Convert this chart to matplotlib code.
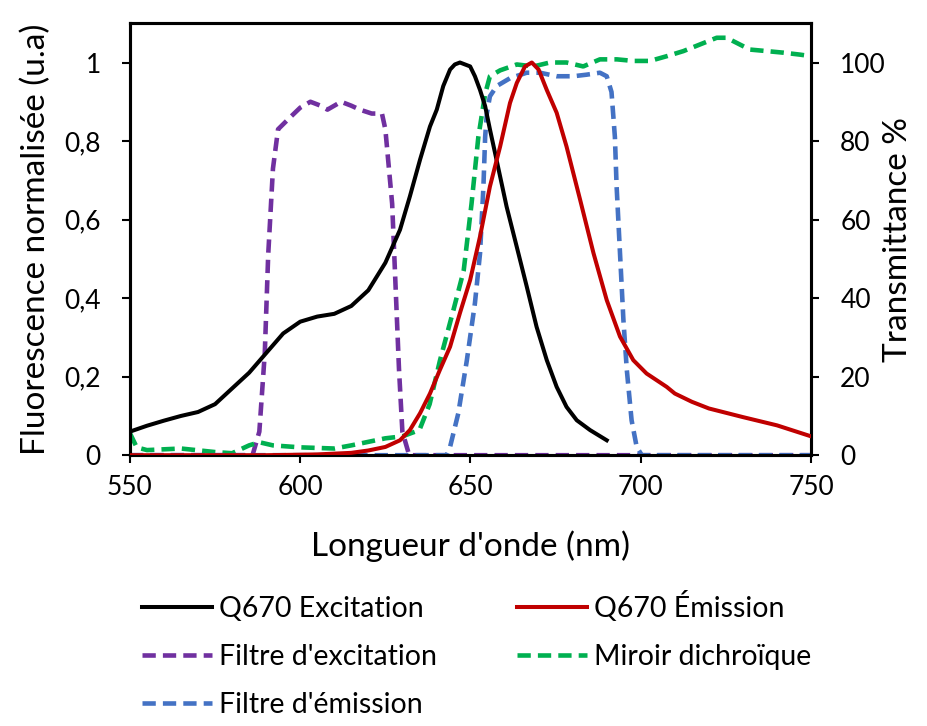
import matplotlib
matplotlib.use("Agg")
import matplotlib.pyplot as plt

plt.rcParams['font.family'] = ['Lato', 'DejaVu Sans']

# Q670 excitation (normalised)
exc_nm = [550, 555, 560, 565, 570, 575, 580, 585, 590, 595, 600, 605, 610, 615, 620, 625, 629.3,
          632.2, 635.2, 638.1, 640.1, 642, 644, 645.4, 646.9, 648.4, 649.9, 651.3, 652.8, 654.3,
          655.7, 657.7, 660.6, 663.6, 666.5, 669.4, 672.4, 675.3, 678.2, 681.2, 685.1, 690]
exc_val = [0.06, 0.075, 0.088, 0.10, 0.11, 0.13, 0.17, 0.21, 0.26, 0.31, 0.34, 0.353, 0.36, 0.38,
           0.42, 0.49, 0.574, 0.659, 0.753, 0.837, 0.88, 0.94, 0.982, 0.995, 1.0, 0.995, 0.99,
           0.965, 0.93, 0.889, 0.83, 0.75, 0.633, 0.53, 0.43, 0.327, 0.242, 0.174, 0.123, 0.089,
           0.064, 0.038]

# Q670 emission (normalised)
em_nm = [550, 590, 605, 615, 620, 625, 629.3, 632.2, 635.2, 638.1, 641, 644, 646.9, 649.9, 652.8,
         655.7, 658.7, 661.6, 663.6, 666, 668, 670, 672.4, 675.3, 678.2, 682.2, 686.1, 690, 693.9,
         697.8, 701.7, 707.6, 710, 715, 720, 730, 740, 750]
em_val = [0.0, 0.0, 0.002, 0.006, 0.012, 0.021, 0.038, 0.064, 0.107, 0.157, 0.217, 0.276, 0.362,
          0.446, 0.557, 0.684, 0.786, 0.897, 0.948, 0.99, 1.0, 0.982, 0.93, 0.872, 0.786, 0.65,
          0.515, 0.395, 0.302, 0.242, 0.208, 0.174, 0.157, 0.136, 0.119, 0.097, 0.076, 0.048]

# filtre d'excitation (%)
fex_nm = [550, 586, 588, 589.6, 590.6, 592, 593.5, 597, 600, 603, 606, 608, 612, 615, 617.5, 621,
          624, 625, 627, 628, 629, 630, 632, 750]
fex_val = [0, 0, 6, 26, 51, 73, 83, 86, 88.5, 90, 89, 88, 90, 89, 88, 87, 87, 83, 64, 43, 22, 6, 0, 0]

# miroir dichroïque (%)
dic_nm = [550, 552, 555, 565, 575, 580, 585, 588, 592, 600, 610, 615, 625, 630, 635, 638, 641, 645,
          648, 650.3, 652.3, 654.3, 655.7, 658.7, 663.6, 668.5, 673.3, 678.2, 683.1, 688, 693,
          697.8, 702.7, 707.6, 712.5, 717.4, 722.3, 725.2, 732, 737, 741.9, 746.8, 750]
dic_val = [5.6, 2, 1.3, 1.7, 0.8, 0.5, 2.5, 3.3, 2.5, 2, 1.7, 2.5, 4.3, 4.8, 6.4, 13, 24, 37,
           47, 64, 81, 92, 96.5, 98, 99.5, 99, 100, 100, 99, 100.8, 100.8,
           100.4, 100.4, 101.6, 102.9, 104.6, 106.3, 106.3, 103.3, 102.9, 102.5, 102, 101.6]

# filtre d'émission (%)
fem_nm = [550, 643, 644, 646.4, 648.9, 651.3, 652.8, 653.8, 654.3, 654.8, 655.7, 657.7, 661.6,
          666.5, 670.4, 675.3, 680.2, 684.1, 688, 690, 691.4, 692.4, 692.9, 693.9, 694.9, 695.9,
          697.3, 698.8, 700.3, 750]
fem_val = [0, 0, 2.1, 10.6, 24, 38.7, 51.4, 68.5, 81, 87, 91.4, 94, 96, 97.4, 97.4, 96.5, 96.5,
           96.9, 97.4, 96.5, 92.5, 81, 68.5, 51.4, 34.4, 21.7, 8.9, 2.1, 0, 0]

fig = plt.figure(figsize=(9.28, 7.26), dpi=100)
ax = fig.add_axes([0.140, 0.373, 0.734, 0.595])
ax2 = ax.twinx()

dash = (0, (2.9, 1.55))
l1, = ax.plot(exc_nm, exc_val, color='black', lw=2.9, label='Q670 Excitation', zorder=5)
l2, = ax.plot(em_nm, em_val, color='#C00000', lw=2.9, label='Q670 Émission', zorder=5)
l3, = ax2.plot(fex_nm, fex_val, color='#7030A0', lw=3.3, ls=dash, label="Filtre d'excitation")
l4, = ax2.plot(dic_nm, dic_val, color='#00B050', lw=3.3, ls=dash, label='Miroir dichroïque')
l5, = ax2.plot(fem_nm, fem_val, color='#4472C4', lw=3.3, ls=dash, label="Filtre d'émission")

ax.set_zorder(ax2.get_zorder() + 1)
ax.patch.set_visible(False)

ax.set_xlim(550, 750)
ax.set_ylim(0, 1.1)
ax2.set_ylim(0, 110)
ax.set_xticks([550, 600, 650, 700, 750])
ax.set_yticks([0, 0.2, 0.4, 0.6, 0.8, 1.0])
ax.set_yticklabels(['0', '0,2', '0,4', '0,6', '0,8', '1'])
ax2.set_yticks([0, 20, 40, 60, 80, 100])

for a in (ax, ax2):
    for s in a.spines.values():
        s.set_linewidth(2.2)
    a.tick_params(labelsize=19, width=1.5, length=6, direction='out', pad=15)
ax.tick_params(axis='x', pad=8)

ax.set_xlabel("Longueur d'onde (nm)", fontsize=24, labelpad=22)
ax.set_ylabel("Fluorescence normalisée (u.a)", fontsize=24, labelpad=9)
ax2.set_ylabel("Transmittance %", fontsize=24, labelpad=-2)

# row-wise order: column 1 then column 2
fig.legend(handles=[l1, l3, l5, l2, l4], loc='upper left', bbox_to_anchor=(0.153, 0.186),
           ncol=2, frameon=False, fontsize=20.5, handlelength=2.46, handletextpad=0.25,
           columnspacing=2.8, labelspacing=0.78, borderpad=0, borderaxespad=0)

fig.savefig('out.png', dpi=100)
